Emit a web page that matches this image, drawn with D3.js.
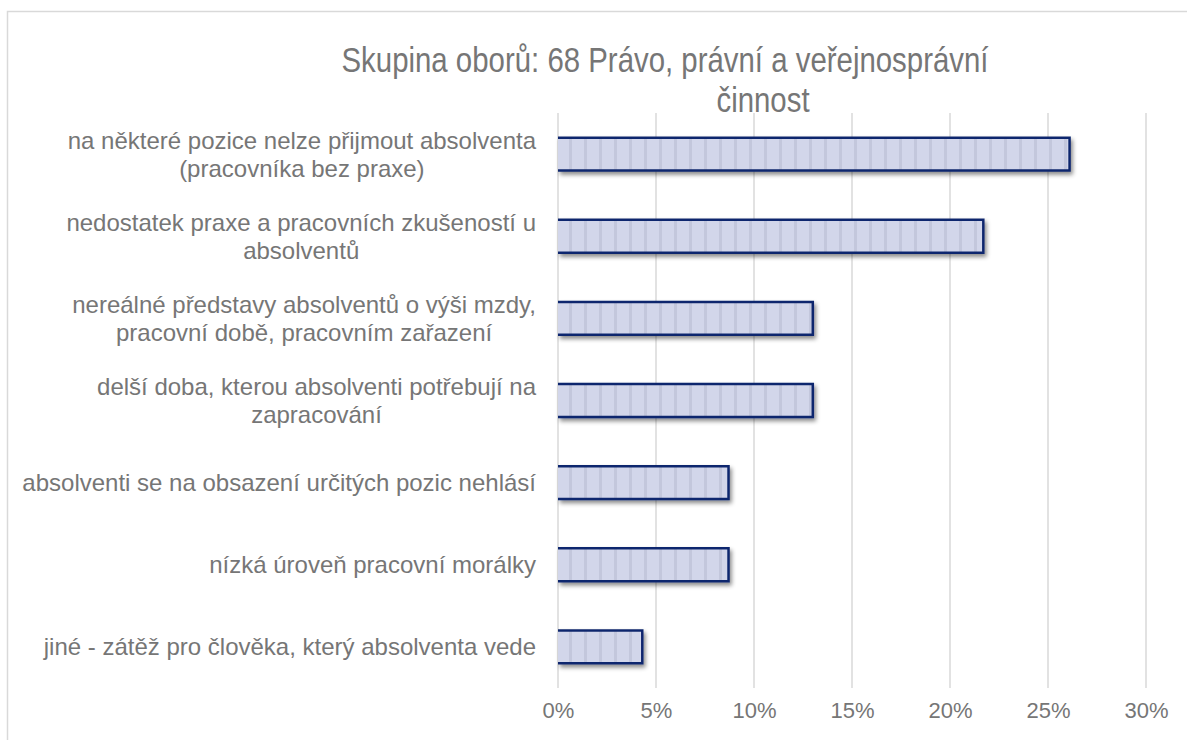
<!DOCTYPE html>
<html>
<head>
<meta charset="utf-8">
<script src="https://cdn.jsdelivr.net/npm/d3@7"></script>
<style>
  body { margin: 0; background: #fff; }
  text { font-family: "Liberation Sans", Arial, sans-serif; fill: #767676; }
</style>
</head>
<body>
<div id="chartContainer"></div>
<script>
// Chart data
const categories = [
  "na některé pozice nelze přijmout absolventa|(pracovníka bez praxe)",
  "nedostatek praxe a pracovních zkušeností u|absolventů",
  "nereálné představy absolventů o výši mzdy,|pracovní době, pracovním zařazení",
  "delší doba, kterou absolventi potřebují na|zapracování",
  "absolventi se na obsazení určitých pozic nehlásí",
  "nízká úroveň pracovní morálky",
  "jiné - zátěž pro člověka, který absolventa vede"
];
const values = [26.1, 21.7, 13.0, 13.0, 8.7, 8.7, 4.3];
const tickValues = [0, 5, 10, 15, 20, 25, 30];
const titleLines = ["Skupina oborů: 68 Právo, právní a veřejnosprávní", "činnost"];

const width = 1187;
const height = 740;
const margin = { top: 113, right: 41, bottom: 52, left: 558 };
const titleSx = 0.84; // title in the original is squeezed horizontally

const svg = d3.select("#chartContainer")
  .append("svg")
  .attr("width", width)
  .attr("height", height);

// pattern + shadow for the bars
const defs = svg.append("defs");
const pat = defs.append("pattern")
  .attr("id", "stripes")
  .attr("patternUnits", "userSpaceOnUse")
  .attr("x", margin.left)
  .attr("width", 15)
  .attr("height", 10);
pat.append("rect").attr("width", 15).attr("height", 10).attr("fill", "#d2d6ea");
pat.append("rect").attr("x", 11).attr("width", 3).attr("height", 10).attr("fill", "#c3c7dc");

const shadow = defs.append("filter").attr("id", "shadow")
  .attr("x", "-5%").attr("y", "-30%").attr("width", "115%").attr("height", "180%");
shadow.append("feDropShadow")
  .attr("dx", 2).attr("dy", 3).attr("stdDeviation", 2)
  .attr("flood-color", "#000").attr("flood-opacity", 0.45);

// outer border
svg.append("rect")
  .attr("x", 7.5).attr("y", 11.5)
  .attr("width", 1300).attr("height", 900)
  .attr("fill", "none")
  .attr("stroke", "#d9d9d9")
  .attr("stroke-width", 1.5);

// title
svg.append("g").selectAll("text")
  .data(titleLines)
  .enter()
  .append("text")
  .attr("transform", (d, i) => `translate(${i === 0 ? 665 : 763}, ${i === 0 ? 72 : 112}) scale(${titleSx},1)`)
  .attr("text-anchor", "middle")
  .style("font-size", "35px")
  .text(d => d);

// scales
const x = d3.scaleLinear()
  .domain([0, 30])
  .range([margin.left, width - margin.right]);

const y = d3.scaleBand()
  .domain(categories)
  .range([margin.top, height - margin.bottom])
  .paddingInner(0.6)
  .paddingOuter(0.3);

// gridlines
svg.append("g")
  .selectAll("line")
  .data(tickValues)
  .enter()
  .append("line")
  .attr("x1", d => x(d)).attr("x2", d => x(d))
  .attr("y1", margin.top).attr("y2", height - margin.bottom)
  .attr("stroke", "#d9d9d9")
  .attr("stroke-width", 1.5);

// x axis labels
const xAxis = svg.append("g")
  .attr("transform", `translate(0, ${height - margin.bottom})`)
  .call(d3.axisBottom(x).tickValues(tickValues).tickFormat(d => d + "%").tickSize(0).tickPadding(0));
xAxis.select(".domain").remove();
xAxis.selectAll("text")
  .attr("y", 30)
  .attr("dy", 0)
  .style("font-family", "\"Liberation Sans\", Arial, sans-serif")
  .style("font-size", "22px")
  .style("fill", "#767676");

// bars
const bars = svg.append("g").selectAll("g")
  .data(values)
  .enter()
  .append("g")
  .attr("filter", "url(#shadow)");

bars.append("rect")
  .attr("x", x(0))
  .attr("y", (d, i) => y(categories[i]))
  .attr("width", d => x(d) - x(0))
  .attr("height", y.bandwidth())
  .attr("fill", "url(#stripes)");

bars.append("path")
  .attr("d", (d, i) => {
    const y0 = y(categories[i]), y1 = y0 + y.bandwidth();
    return `M${x(0)},${y0}H${x(d)}V${y1}H${x(0)}`;
  })
  .attr("fill", "none")
  .attr("stroke", "#10286e")
  .attr("stroke-width", 2.5);

// category labels
const labelRight = 536;
const lh = 28;
categories.forEach((c, i) => {
  const lines = c.split("|");
  const cy = y(c) + y.bandwidth() / 2;
  const g = svg.append("g");
  const texts = g.selectAll("text")
    .data(lines)
    .enter()
    .append("text")
    .attr("text-anchor", "middle")
    .attr("dominant-baseline", "central")
    .style("font-size", "24px")
    .text(d => d);
  const wMax = d3.max(texts.nodes(), n => n.getComputedTextLength());
  const cx = labelRight - wMax / 2;
  texts.attr("x", cx)
    .attr("y", (d, j) => cy + (j - (lines.length - 1) / 2) * lh);
});
</script>
</body>
</html>
